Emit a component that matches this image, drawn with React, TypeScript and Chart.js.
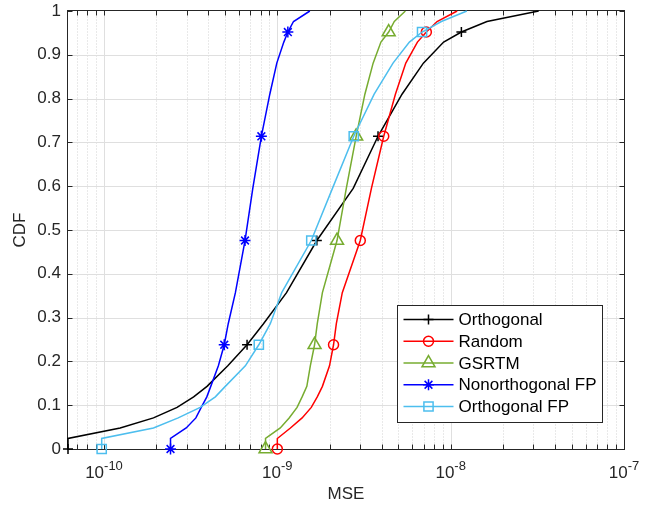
import React, { useEffect, useRef } from 'react';
import { Chart, registerables } from 'chart.js';

Chart.register(...registerables);

const FONT = '"Liberation Sans", Arial, Helvetica, sans-serif';

// CDF levels shared by all curves
const cdfLevels = [0, 0.024, 0.048, 0.071, 0.095, 0.119, 0.143, 0.19, 0.238, 0.286, 0.357, 0.476, 0.595, 0.714, 0.81, 0.881, 0.929, 0.952, 0.976, 1];
// indices of cdfLevels that carry a marker
const markerIndices = [0, 8, 11, 13, 17];

const seriesNames = ['Orthogonal', 'Random', 'GSRTM', 'Nonorthogonal FP', 'Orthogonal FP'];

const orthogonalMse = [6.2e-11, 6.2e-11, 1.24e-10, 1.93e-10, 2.64e-10, 3.29e-10, 3.93e-10, 5.18e-10, 6.69e-10, 8.32e-10, 1.13e-9, 1.69e-9, 2.74e-9, 3.81e-9, 5.24e-9, 6.96e-9, 9.11e-9, 1.153e-8, 1.62e-8, 3.22e-8];
const randomMse = [1.0e-9, 1.0e-9, 1.19e-9, 1.39e-9, 1.57e-9, 1.7e-9, 1.82e-9, 2.0e-9, 2.11e-9, 2.19e-9, 2.37e-9, 3.01e-9, 3.49e-9, 4.11e-9, 4.8e-9, 5.51e-9, 6.43e-9, 7.24e-9, 8.35e-9, 1.09e-8];
const gsrtmMse = [8.55e-10, 8.55e-10, 1.04e-9, 1.17e-9, 1.3e-9, 1.39e-9, 1.48e-9, 1.55e-9, 1.64e-9, 1.7e-9, 1.82e-9, 2.21e-9, 2.5e-9, 2.85e-9, 3.2e-9, 3.57e-9, 3.96e-9, 4.39e-9, 4.73e-9, 5.48e-9];
const nonorthFpMse = [2.42e-10, 2.42e-10, 2.98e-10, 3.39e-10, 3.64e-10, 3.92e-10, 4.13e-10, 4.57e-10, 4.94e-10, 5.21e-10, 5.73e-10, 6.51e-10, 7.22e-10, 8.09e-10, 9.05e-10, 9.93e-10, 1.09e-9, 1.15e-9, 1.24e-9, 1.54e-9];
const orthFpMse = [9.7e-11, 9.7e-11, 1.93e-10, 2.68e-10, 3.59e-10, 4.39e-10, 5.01e-10, 6.54e-10, 7.82e-10, 9.11e-10, 1.06e-9, 1.57e-9, 2.08e-9, 2.76e-9, 3.62e-9, 4.65e-9, 5.78e-9, 6.84e-9, 8.84e-9, 1.24e-8];

const seriesValues = [orthogonalMse, randomMse, gsrtmMse, nonorthFpMse, orthFpMse];

const xMin = 6.2e-11;
const xMax = 1e-7;
const xTickValues = [1e-10, 1e-9, 1e-8, 1e-7];
const xTickExponents = ['-10', '-9', '-8', '-7'];
const xMinorMultipliers = [2, 3, 4, 5, 6, 7, 8, 9];
const xDecades = [1e-11, 1e-10, 1e-9, 1e-8];
const yTickValues = [0, 0.1, 0.2, 0.3, 0.4, 0.5, 0.6, 0.7, 0.8, 0.9, 1];

const seriesColors = ['#000000', '#FF0000', '#77AC30', '#0000FF', '#4DBEEE'];
const seriesMarkers = ['cross', 'circle', 'triangle', 'star', 'rect'];
const markerRadii = [5, 5, 7.5, 5.5, 6.5];

function drawMarker(ctx: CanvasRenderingContext2D, style: string, x: number, y: number, r: number) {
  ctx.beginPath();
  if (style === 'cross') {
    ctx.moveTo(x - r, y); ctx.lineTo(x + r, y);
    ctx.moveTo(x, y - r); ctx.lineTo(x, y + r);
  } else if (style === 'circle') {
    ctx.arc(x, y, r, 0, Math.PI * 2);
  } else if (style === 'triangle') {
    for (let i = 0; i < 3; i++) {
      const a = (i * 2 * Math.PI) / 3;
      const px = x + Math.sin(a) * r;
      const py = y - Math.cos(a) * r;
      if (i === 0) ctx.moveTo(px, py); else ctx.lineTo(px, py);
    }
    ctx.closePath();
  } else if (style === 'star') {
    const d = r * Math.SQRT1_2;
    ctx.moveTo(x - r, y); ctx.lineTo(x + r, y);
    ctx.moveTo(x, y - r); ctx.lineTo(x, y + r);
    ctx.moveTo(x - d, y - d); ctx.lineTo(x + d, y + d);
    ctx.moveTo(x - d, y + d); ctx.lineTo(x + d, y - d);
  } else if (style === 'rect') {
    const s = r * Math.SQRT1_2;
    ctx.rect(x - s, y - s, 2 * s, 2 * s);
  }
  ctx.stroke();
}

const framePlugin = {
  id: 'matlabFrame',
  beforeDatasetsDraw(chart: any) {
    const { ctx, chartArea: a, scales } = chart;
    const xs = scales.x;
    const ys = scales.y;
    const L = Math.round(a.left) - 0.5;
    const R = Math.round(a.right) + 0.5;
    const T = Math.round(a.top) - 0.5;
    const B = Math.round(a.bottom) + 0.5;
    ctx.save();
    ctx.lineWidth = 1;
    // minor x grid (dotted)
    ctx.strokeStyle = '#d2d2d2';
    ctx.setLineDash([1, 2]);
    const minorPx: number[] = [];
    for (const d of xDecades) {
      for (const m of xMinorMultipliers) {
        const v = m * d;
        if (v <= xMin || v >= xMax) continue;
        const px = Math.round(xs.getPixelForValue(v)) + 0.5;
        minorPx.push(px);
        ctx.beginPath(); ctx.moveTo(px, T); ctx.lineTo(px, B); ctx.stroke();
      }
    }
    ctx.setLineDash([]);
    // major grid
    ctx.strokeStyle = '#dfdfdf';
    const majorPx: number[] = [];
    for (const v of xTickValues) {
      const px = Math.round(xs.getPixelForValue(v)) + 0.5;
      majorPx.push(px);
      if (v <= xMin || v >= xMax) continue;
      ctx.beginPath(); ctx.moveTo(px, T); ctx.lineTo(px, B); ctx.stroke();
    }
    const yPx: number[] = [];
    for (const v of yTickValues) {
      const py = Math.round(ys.getPixelForValue(v)) + 0.5;
      yPx.push(py);
      if (v <= 0 || v >= 1) continue;
      ctx.beginPath(); ctx.moveTo(L, py); ctx.lineTo(R, py); ctx.stroke();
    }
    // box
    ctx.strokeStyle = '#262626';
    ctx.strokeRect(L, T, R - L, B - T);
    // ticks
    const tl = 5;
    ctx.beginPath();
    for (const px of [...minorPx, ...majorPx]) {
      if (px <= L || px >= R) continue;
      ctx.moveTo(px, B); ctx.lineTo(px, B - tl);
      ctx.moveTo(px, T); ctx.lineTo(px, T + tl);
    }
    for (const py of yPx) {
      ctx.moveTo(L, py); ctx.lineTo(L + tl, py);
      ctx.moveTo(R, py); ctx.lineTo(R - tl, py);
    }
    ctx.stroke();
    ctx.restore();
  },
  afterDraw(chart: any) {
    const { ctx, chartArea: a, scales } = chart;
    const xs = scales.x;
    ctx.save();
    // x tick labels with superscript exponents
    ctx.fillStyle = '#262626';
    ctx.textBaseline = 'alphabetic';
    ctx.textAlign = 'left';
    const baseFont = '17px ' + FONT;
    const supFont = '13px ' + FONT;
    xTickValues.forEach((v, i) => {
      const px = xs.getPixelForValue(v);
      ctx.font = baseFont;
      const wb = ctx.measureText('10').width;
      ctx.font = supFont;
      const ws = ctx.measureText(xTickExponents[i]).width;
      const start = px - (wb + ws) / 2;
      ctx.font = baseFont;
      ctx.fillText('10', start, 478);
      ctx.font = supFont;
      ctx.fillText(xTickExponents[i], start + wb, 470);
    });
    // legend
    const lw = 205;
    const lh = 117;
    const lx = Math.round(a.right) - 22 - lw + 0.5;
    const ly = Math.round(a.bottom) - 27 - lh + 0.5;
    ctx.fillStyle = '#ffffff';
    ctx.fillRect(lx, ly, lw, lh);
    ctx.strokeStyle = '#262626';
    ctx.lineWidth = 1;
    ctx.strokeRect(lx, ly, lw, lh);
    ctx.font = '17px ' + FONT;
    ctx.textBaseline = 'middle';
    ctx.textAlign = 'left';
    seriesNames.forEach((name, i) => {
      const ry = ly + 14 + i * 21.75;
      ctx.strokeStyle = seriesColors[i];
      ctx.lineWidth = 1.5;
      ctx.beginPath();
      ctx.moveTo(lx + 6, ry); ctx.lineTo(lx + 56, ry);
      ctx.stroke();
      drawMarker(ctx, seriesMarkers[i], lx + 31, ry, markerRadii[i]);
      ctx.fillStyle = '#000000';
      ctx.fillText(name, lx + 61, ry + 1);
    });
    ctx.restore();
  },
};

export default function App() {
  const canvasRef = useRef<HTMLCanvasElement | null>(null);

  useEffect(() => {
    const canvas = canvasRef.current;
    if (!canvas) return;
    const datasets = seriesNames.map((name, i) => ({
      label: name,
      data: seriesValues[i].map((v, j) => ({ x: v, y: cdfLevels[j] })),
      borderColor: seriesColors[i],
      backgroundColor: seriesColors[i],
      borderWidth: 1.5,
      pointStyle: seriesMarkers[i],
      pointRadius: (c: any) => (markerIndices.includes(c.dataIndex) ? markerRadii[i] : 0),
      pointHoverRadius: 0,
      pointBorderColor: seriesColors[i],
      pointBackgroundColor: 'rgba(0,0,0,0)',
      pointBorderWidth: 1.5,
      tension: 0,
      clip: false as any,
      order: seriesNames.length - i,
    }));

    const chart = new Chart(canvas, {
      type: 'line',
      data: { datasets },
      options: {
        responsive: false,
        animation: false,
        devicePixelRatio: 1,
        layout: { padding: { left: 0, right: 27, top: 11, bottom: 0 } },
        plugins: { legend: { display: false }, tooltip: { enabled: false } },
        events: [],
        scales: {
          x: {
            type: 'logarithmic',
            min: xMin,
            max: xMax,
            grid: { display: false, drawTicks: false },
            border: { display: false },
            ticks: { display: false },
            title: {
              display: true,
              text: 'MSE',
              color: '#262626',
              font: { family: FONT, size: 17 },
              padding: { top: 0, bottom: 0 },
            },
            afterFit: (s: any) => { s.height = 56; s.paddingLeft = 0; s.paddingRight = 0; },
          },
          y: {
            type: 'linear',
            min: 0,
            max: 1,
            grid: { display: false, drawTicks: false },
            border: { display: false },
            afterBuildTicks: (s: any) => { s.ticks = yTickValues.map((v) => ({ value: v })); },
            ticks: {
              color: '#262626',
              font: { family: FONT, size: 17 },
              padding: 7,
              callback: (v: any) => String(Math.round(Number(v) * 10) / 10),
            },
            title: {
              display: true,
              text: 'CDF',
              color: '#262626',
              font: { family: FONT, size: 17 },
              padding: { top: 10, bottom: 0 },
            },
            afterFit: (s: any) => { s.width = 68; s.paddingTop = 0; s.paddingBottom = 0; },
          },
        },
      },
      plugins: [framePlugin],
    });
    return () => chart.destroy();
  }, []);

  return (
    <div style={{ position: 'absolute', left: 0, top: 0, width: 651, height: 505, background: '#fff' }}>
      <canvas ref={canvasRef} width={651} height={505} style={{ display: 'block' }} />
    </div>
  );
}
